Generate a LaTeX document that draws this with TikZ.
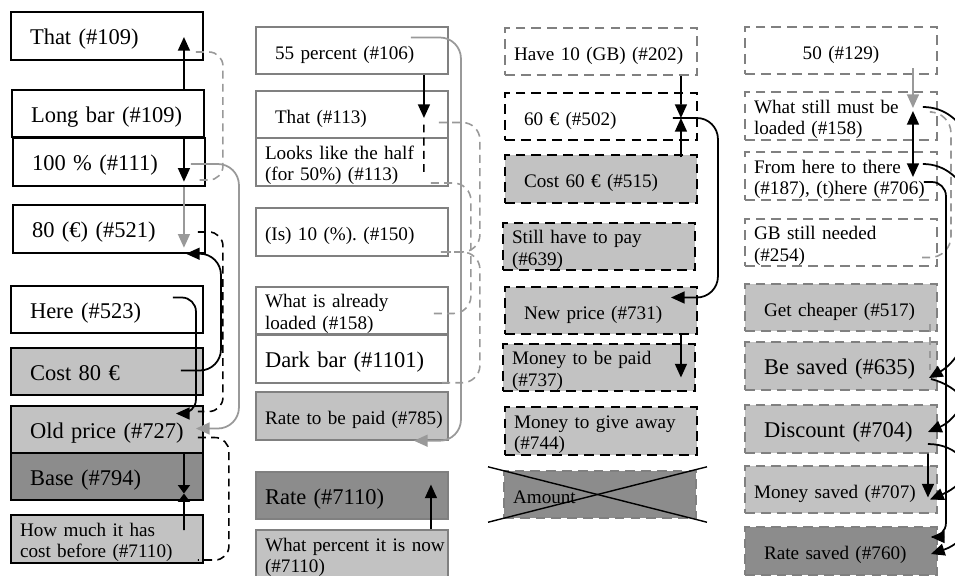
\documentclass[tikz,border=0pt]{standalone}
\usepackage{fontspec}
\setmainfont{Liberation Serif}
\usepackage{xcolor}
\usepackage{tikz}
\usetikzlibrary{arrows.meta, positioning, calc}
\definecolor{lightfill}{gray}{0.76}
\definecolor{darkfill}{gray}{0.55}
\definecolor{boxgrey}{gray}{0.5}
\definecolor{linkgrey}{gray}{0.6}
\tikzstyle{arrow} = [line width=1pt,->]
\frenchspacing

\begin{document}
\begin{tikzpicture}[
    x=0.02cm, y=-0.02cm,
    >={Triangle[length=7.8pt,width=6.8pt]},
    box/.style={rectangle, minimum width=3.84cm, minimum height=0.95cm, inner ysep=0pt, align=left, text height=0.40cm, text depth=0.06cm, line width=1.1pt},
    padwide/.style={inner xsep=0.38cm, text width=3.08cm},
    padnarrow/.style={inner xsep=0.18cm, text width=3.48cm},
    twoline/.style={text depth=0.52cm},
    bigtext/.style={font=\fontsize{12.8}{14}\selectfont},
    smalltext/.style={font=\fontsize{10.9}{12.5}\selectfont},
    blackbox/.style={box, draw=black},
    greybox/.style={box, draw=boxgrey},
    dashbox/.style={box, draw=black, dash pattern=on 5.5pt off 3.5pt},
    greydashbox/.style={box, draw=boxgrey, dash pattern=on 5.5pt off 3.5pt},
    lightbox/.style={fill=lightfill},
    darkbox/.style={fill=darkfill},
    garrow/.style={arrow, draw=linkgrey},
    meet/.style={line width=1pt, -{Triangle[length=4.8pt,width=6.8pt]}},
    kdash/.style={line width=0.9pt, dash pattern=on 4.5pt off 3pt},
    gdash/.style={kdash, draw=linkgrey}
]
    \useasboundingbox (0,0) rectangle (955,575);
    \clip (0,0) rectangle (955,575);

    % column 1
    \node[blackbox, bigtext, padwide] (that) at (107,36) {That (\#109)};
    \node[blackbox, bigtext, padwide] (longbar) at (108,113.5) {Long bar (\#109)};
    \node[blackbox, bigtext, padwide] (hundred) at (109,162) {100 \% (\#111)};
    \node[blackbox, bigtext, padwide] (eighty) at (109,229) {80 (€) (\#521)};
    \node[blackbox, bigtext, padwide] (here) at (107,309.5) {Here (\#523)};
    \node[blackbox, bigtext, padwide, lightbox] (cost80) at (107,371.5) {Cost 80 €};
    \node[blackbox, bigtext, padwide, lightbox] (oldprice) at (107,429.5) {Old price (\#727)};
    \node[blackbox, bigtext, padwide, darkbox] (base) at (107,476.5) {Base (\#794)};
    \node[blackbox, smalltext, padnarrow, lightbox, twoline] (howmuch) at (107,539) {How much it has\\cost before (\#7110)};

    % column 2
    \node[greybox, smalltext, padwide] (fifty5) at (352,50.5) {55 percent (\#106)};
    \node[greybox, smalltext, padwide] (that2) at (352,114.5) {That (\#113)};
    \node[greybox, smalltext, padnarrow, twoline] (half) at (352,162) {Looks like the half\\(for 50\%) (\#113)};
    \node[greybox, smalltext, padnarrow] (ten) at (352,232) {(Is) 10 (\%). (\#150)};
    \node[greybox, smalltext, padnarrow, twoline] (loaded) at (352,310.5) {What is already\\loaded (\#158)};
    \node[greybox, bigtext, padnarrow] (darkbar) at (352,359) {Dark bar (\#1101)};
    \node[greybox, smalltext, padnarrow, lightbox] (ratepaid) at (352,416) {\mbox{Rate to be paid (\#785)}};
    \node[greybox, bigtext, padnarrow, darkbox] (rate) at (352,495.5) {Rate (\#7110)};
    \node[greybox, smalltext, padnarrow, lightbox, twoline] (percent) at (352,554) {\mbox{What percent it is now}\\(\#7110)};

    % column 3
    \node[greydashbox, smalltext, padnarrow] (have10) at (601,51.5) {Have 10 (GB) (\#202)};
    \node[dashbox, smalltext, padwide] (sixty) at (601,116.5) {60 € (\#502)};
    \node[dashbox, smalltext, padwide, lightbox] (cost60) at (601,179) {Cost 60 € (\#515)};
    \node[dashbox, smalltext, padnarrow, lightbox, twoline] (stillpay) at (599,246.5) {Still have to pay\\(\#639)};
    \node[dashbox, smalltext, padwide, lightbox] (newprice) at (601,310.5) {New price (\#731)};
    \node[dashbox, smalltext, padnarrow, lightbox, twoline] (tobepaid) at (599,367.5) {Money to be paid\\(\#737)};
    \node[dashbox, smalltext, padnarrow, lightbox, twoline] (giveaway) at (601,431) {Money to give away\\(\#744)};
    \node[greydashbox, smalltext, padnarrow, darkbox] (amount) at (600,494.5) {Amount};

    % column 4
    \node[greydashbox, smalltext, padnarrow, align=center] (fifty) at (841,50.5) {50 (\#129)};
    \node[greydashbox, smalltext, padnarrow, twoline] (muststill) at (841,116) {What still must be\\loaded (\#158)};
    \node[greydashbox, smalltext, padnarrow, twoline] (herethere) at (841,176) {From here to there\\\mbox{(\#187), (t)here (\#706)}};
    \node[greydashbox, smalltext, padnarrow, twoline] (gbneeded) at (841,242.5) {GB still needed\\(\#254)};
    \node[greydashbox, smalltext, padwide, lightbox] (cheaper) at (841,307.5) {Get cheaper (\#517)};
    \node[greydashbox, bigtext, padwide, lightbox] (besaved) at (841,366) {Be saved (\#635)};
    \node[greydashbox, bigtext, padwide, lightbox] (discount) at (841,429) {Discount (\#704)};
    \node[greydashbox, smalltext, padnarrow, lightbox] (moneysaved) at (841,489.5) {\mbox{Money saved (\#707)}};
    \node[greydashbox, smalltext, padwide, darkbox] (ratesaved) at (841,551) {Rate saved (\#760)};

    % links, column 1
    \draw[arrow] ($(longbar.north east)+(-21,0)$) -- ($(that.east)+(-20,1)$);
    \draw[arrow] ($(longbar.south east)+(-21,0)$) -- ($(hundred.south east)+(-22,-5)$);
    \draw[gdash, rounded corners=8] ($(that.east)+(-8,16)$) -- ++(27,0) |- ($(hundred.east)+(-10,18)$);
    \draw[garrow, rounded corners=12] ($(hundred.east)+(-15,2)$) -- ++(48,0) |- ($(oldprice.east)+(-8,-1)$);
    \draw[garrow] ($(hundred.south east)+(-22,0)$) -- ($(eighty.south east)+(-22,-6)$);
    \draw[arrow, rounded corners=12] ($(cost80.east)+(-23,-1)$) -- ++(40,0) |- ($(eighty.south east)+(-20,0)$);
    \draw[arrow, rounded corners=8] ($(here.east)+(-31,-12)$) -- ++(23,0) |- ($(oldprice.east)+(-28,-16)$);
    \draw[kdash, rounded corners=8] ($(eighty.east)+(-8,3)$) -- ++(25,0) |- ($(oldprice.east)+(-6,-18)$);
    \draw[kdash, rounded corners=8] ($(oldprice.east)+(-6,8)$) -- ++(31,0) |- ($(howmuch.east)+(-6,21)$);
    \draw[meet] ($(oldprice.south east)+(-20,0)$) -- ($(base.east)+(-20,17)$);
    \draw[meet] ($(howmuch.east)+(-20,-9)$) -- ($(base.east)+(-20,17)$);

    % links, column 2
    \draw[arrow] ($(fifty5.south east)+(-25,0)$) -- ($(that2.east)+(-25,3.5)$);
    \draw[kdash] ($(that2.east)+(-25,10)$) -- ($(half.east)+(-25,13)$);
    \draw[garrow, rounded corners=12] ($(fifty5.east)+(-38,-13)$) -- ++(50,0) |- ($(ratepaid.south east)+(-35,0)$);
    \draw[gdash, rounded corners=10] ($(that2.east)+(-10,8)$) -- ++(41,0) |- ($(ten.east)+(-8,20)$);
    \draw[gdash, rounded corners=10] ($(half.east)+(-18,21)$) -- ++(40,0) |- ($(loaded.east)+(-18,3)$);
    \draw[gdash, rounded corners=10] ($(ten.east)+(-8,20)$) -- ++(39,0) |- ($(darkbar.south east)+(-8,-1)$);
    \draw[arrow] ($(percent.north east)+(-18,0)$) -- ($(rate.east)+(-18,-11)$);

    % links, column 3
    \draw[arrow] ($(have10.south east)+(-17,0)$) -- ($(sixty.east)+(-17,1.5)$);
    \draw[arrow] ($(cost60.north east)+(-17,3)$) -- ($(sixty.east)+(-17,1.5)$);
    \draw[arrow, rounded corners=12] ($(sixty.east)+(-25,1.5)$) -- ++(45,0) |- ($(newprice.east)+(-27,-13)$);
    \draw[arrow] ($(newprice.south east)+(-17,0)$) -- ($(tobepaid.east)+(-15,10)$);
    \draw[line width=0.8pt] ($(amount.north west)+(-15,-3)$) -- ($(amount.south east)+(10,3)$);
    \draw[line width=0.8pt] ($(amount.south west)+(-15,3)$) -- ($(amount.north east)+(10,-3)$);

    % links, column 4
    \draw[garrow] ($(fifty.south east)+(-25,-7)$) -- ($(muststill.east)+(-25,-8)$);
    \draw[arrow, <->] ($(muststill.east)+(-25,-5)$) -- ($(herethere.east)+(-25,1)$);
    \draw[gdash, rounded corners=12] ($(muststill.east)+(-6,-4)$) -- ++(19,0) |- ($(gbneeded.east)+(-20,15)$);
    \draw[gdash] ($(cheaper.south east)+(-8,-8)$) -- ($(besaved.east)+(-8,4)$);
    \draw[arrow] ($(muststill.east)+(-15,-9)$) .. controls +(90,0) and +(70,-40) .. ($(besaved.east)+(-9,12)$);
    \draw[arrow] ($(herethere.east)+(-15,-12)$) .. controls +(90,0) and +(70,-30) .. ($(discount.east)+(-10,3)$);
    \draw[arrow, rounded corners=8] ($(herethere.east)+(-14,6)$) -- ++(22,0) |- ($(ratesaved.east)+(-7,-14)$);
    \draw[arrow] ($(besaved.east)+(-7,13)$) .. controls +(60,15) and +(60,-25) .. ($(moneysaved.east)+(-8,10)$);
    \draw[arrow] ($(discount.south east)+(-10,0)$) -- ($(moneysaved.east)+(-10,8)$);
    \draw[arrow] ($(discount.east)+(-10,15)$) .. controls +(60,0) and +(60,-20) .. ($(ratesaved.east)+(-7,3)$);
\end{tikzpicture}
\end{document}
